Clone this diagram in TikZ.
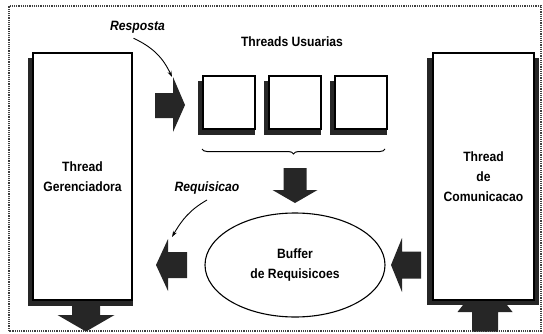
\documentclass[tikz,border=0pt]{standalone}
\usepackage{fontspec}
\setmainfont{Liberation Sans}[FakeStretch=0.9]
\usetikzlibrary{shapes.geometric,decorations.pathreplacing,arrows.meta}

\begin{document}
\begin{tikzpicture}[x=1pt,y=1pt]

\tikzstyle{boldtext}=[font=\fontsize{13.5}{20}\selectfont\bfseries,align=center,inner sep=0]
\tikzstyle{italtext}=[font=\fontsize{13.5}{20}\selectfont\bfseries\itshape,inner sep=0]
\tikzstyle{tbox}=[rectangle,draw,fill=white,line width=1.1pt,boldtext]
\tikzstyle{ubox}=[rectangle,draw,fill=white,line width=1.1pt,minimum width=52,minimum height=53]
\tikzstyle{shade}=[fill=black!85]
\tikzstyle{blockarrow}=[fill=black!85]
\tikzstyle{curve}=[line width=0.9pt,-{Stealth[length=6pt,width=4pt]}]

\useasboundingbox (0,0) rectangle (543,333);
\draw[densely dotted,line width=1.2pt,black!75] (9,2) rectangle (541,327);

\fill[blockarrow] (72,35) -- (100,35) -- (100,18) -- (114.5,18) -- (86,1.5) -- (57.5,18) -- (72,18) -- cycle;
\fill[blockarrow] (472,1.5) -- (498,1.5) -- (498,21) -- (512.5,21) -- (485,56) -- (457.5,21) -- (472,21) -- cycle;

\fill[shade] (28,27) rectangle (133,275);
\node[tbox,minimum width=99,minimum height=247] (gerente) at (82.5,156.5) {Thread\\Gerenciadora};

\fill[shade] (427,28) rectangle (539,275);
\node[tbox,minimum width=101,minimum height=247] (comunica) at (483.5,156.5) {Thread\\de\\Comunicacao};

\node[boldtext] (usuarias) at (292,291) {Threads Usuarias};
\foreach \n/\cx in {1/229,2/295,3/361} {
  \fill[shade] (\cx-31,198) rectangle (\cx+26,252);
  \node[ubox] (user\n) at (\cx,230.5) {};
}
\draw[decorate,decoration={brace,mirror,amplitude=5},line width=1pt] (202,184) -- (385,184);

\node[draw,ellipse,line width=1.1pt,minimum width=180,minimum height=104,boldtext] (buffer) at (295,68) {Buffer\\de Requisicoes};

\fill[blockarrow] (155,215) -- (173,215) -- (173,201) -- (185,228) -- (173,256) -- (173,240) -- (155,240) -- cycle;
\fill[blockarrow] (283.5,165) -- (306.5,165) -- (306.5,143) -- (317.5,143) -- (295,130) -- (272.5,143) -- (283.5,143) -- cycle;
\fill[blockarrow] (187,55) -- (168,55) -- (168,42) -- (156,68) -- (168,94) -- (168,81) -- (187,81) -- cycle;
\fill[blockarrow] (421,54.5) -- (402,54.5) -- (402,41) -- (391,68) -- (402,95) -- (402,81.5) -- (421,81.5) -- cycle;

\node[italtext] (resposta) at (137.5,306) {Resposta};
\coordinate (respend) at (172,256);
\draw[curve] ([shift={(-4,-5)}]resposta.south) to[out=-25,in=115] (respend);

\node[italtext] (requisicao) at (207,144.5) {Requisicao};
\coordinate (reqend) at (172,96);
\draw[curve] ([shift={(0,-5)}]requisicao.south) to[out=-150,in=60] (reqend);

\end{tikzpicture}
\end{document}
